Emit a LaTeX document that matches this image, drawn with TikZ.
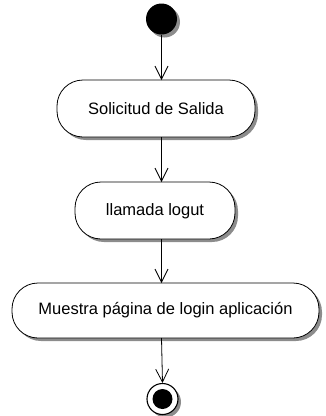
\documentclass[tikz,border=0pt]{standalone}
\usepackage{fontspec}
\setmainfont{Liberation Sans}
\usetikzlibrary{arrows.meta}
\begin{document}
\begin{tikzpicture}[x=1pt,y=-1pt,
  shadowcol/.style={fill=black!45},
  act/.style={draw=black, line width=0.8pt, fill=white, rounded corners=26pt},
  lbl/.style={font=\fontsize{16.5}{19}\selectfont, inner sep=0pt},
  flow/.style={draw=black, line width=0.8pt, -{Straight Barb[length=13pt,width=13pt,line width=0.8pt]}}]
\useasboundingbox (0,0) rectangle (326,416);
% start
\fill[shadowcol] (164.5,22) circle (15.5);
\node[circle, fill=black, minimum size=31pt, inner sep=0pt] (start) at (161.5,19) {};
% activity 1
\fill[shadowcol, rounded corners=26pt] (60,83) rectangle (258,140);
\draw[act] (57,80) rectangle (255,137);
\coordinate (a1t) at (161.5,80);
\coordinate (a1b) at (161.5,137);
\node[lbl] (t1) at (156,108.5) {Solicitud de Salida};
% activity 2
\fill[shadowcol, rounded corners=26pt] (78,185) rectangle (238,242);
\draw[act] (75,182) rectangle (235,239);
\coordinate (a2t) at (161.5,182);
\coordinate (a2b) at (161.5,239);
\node[lbl] (t2) at (155,211) {llamada logut};
% activity 3
\fill[shadowcol, rounded corners=26pt] (15,286) rectangle (322,341);
\draw[act] (12,283) rectangle (319,338);
\coordinate (a3t) at (161.5,283);
\coordinate (a3b) at (161.5,338);
\node[lbl] (t3) at (165.5,310.5) {Muestra página de login aplicación};
% end
\fill[shadowcol] (165.5,402) circle (15.5);
\node[circle, draw=black, line width=1.1pt, fill=white, minimum size=31pt, inner sep=0pt] (endo) at (162.5,399) {};
\node[circle, fill=black, minimum size=20pt, inner sep=0pt] (endi) at (endo.center) {};
% flows
\draw[flow] (start.south) -- (a1t);
\draw[flow] (a1b) -- (a2t);
\draw[flow] (a2b) -- (a3t);
\draw[flow] (a3b) -- (endo.north);
\end{tikzpicture}
\end{document}
